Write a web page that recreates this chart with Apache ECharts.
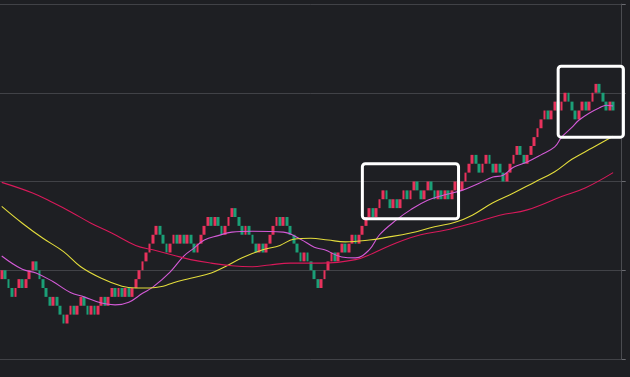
<!DOCTYPE html>
<html>
<head>
<meta charset="utf-8">
<script src="https://cdn.jsdelivr.net/npm/echarts@6/dist/echarts.min.js"></script>
<style>
html, body { margin: 0; padding: 0; background: #1e1f23; }
#chart { width: 630px; height: 377px; }
</style>
</head>
<body>
<div id="chart"></div>
<script>
// renko bricks, in brick units; every brick opens where the previous one closed
const firstOpen = 9;
const brickCloses = [
	10,9,8,7,8,9,8,9,10,11,10,9,8,7,6,7,6,5,4,5,6,5,6,7,
	6,5,6,5,6,7,6,7,8,7,8,7,8,7,
	8,9,10,11,12,13,14,15,
	14,13,12,13,14,13,14,13,14,13,12,13,14,15,16,15,16,15,14,15,16,17,
	16,15,14,15,14,13,12,13,12,13,14,15,16,15,16,15,14,13,12,11,12,11,10,9,8,
	9,10,11,12,11,12,13,12,13,14,13,14,15,16,17,
	16,17,18,19,18,17,18,17,18,19,18,19,20,19,18,19,20,19,18,19,18,19,18,19,20,19,
	20,21,22,23,22,21,22,23,22,21,22,21,20,21,22,23,24,23,22,23,24,25,26,27,28,27,28,29,28,
	29,30,29,28,27,28,29,28,29,30,31,30,29,28,29,28
];
const emptySlots = 2;

// moving averages: [brick index, value]
const maFast = [[0,11.6],[6,10.1],[10,9.7],[15,8.7],[20,7.5],[24,7.0],[29,6.3],[33,6.1],[37,6.4],[41,7.4],[44,8.1],[49,9.8],[53,11.6],[56,12.5],[59,13.4],[63,13.9],[67,14.3],[73,14.4],[82,14.3],[87,13.5],[91,12.6],[94,12.3],[99,11.5],[103,11.4],[107,12.3],[110,14.0],[115,15.7],[119,16.8],[124,17.9],[129,18.5],[134,19.0],[139,19.8],[143,20.5],[146,20.7],[149,21.6],[153,22.2],[157,23.0],[161,23.9],[163,25.0],[166,26.1],[168,26.9],[171,27.7],[174,28.3],[176,28.6],[178,28.5]];
const maMid = [[0,17.2],[6,15.3],[12,13.6],[18,12.1],[23,10.4],[29,9.1],[35,8.2],[39,8.0],[43,8.0],[47,8.2],[50,8.6],[55,9.1],[61,9.7],[65,10.4],[70,11.4],[76,12.3],[81,12.8],[85,13.5],[90,13.6],[95,13.4],[100,13.2],[107,13.4],[112,13.7],[119,14.2],[126,14.9],[132,15.4],[137,16.2],[143,17.6],[149,18.7],[155,19.9],[161,21.1],[166,22.5],[172,23.8],[178,25.1]];
const maSlow = [[0,19.9],[9,18.7],[15,17.6],[20,16.6],[26,15.3],[32,14.2],[39,12.8],[44,12.3],[50,11.7],[55,11.2],[61,10.8],[67,10.5],[73,10.4],[78,10.6],[84,10.8],[93,10.8],[103,11.2],[108,11.9],[115,13.1],[122,14.0],[129,14.5],[137,15.3],[145,16.2],[153,16.8],[163,18.3],[170,19.3],[178,21.0]];

// highlighted ranges: brick index span and value span
const boxes = [
	{from: 105.2, to: 133.0, low: 15.8, high: 22.0},
	{from: 162.3, to: 181.4, low: 25.0, high: 33.0}
];

const categories = [];
for (let i = 0; i < brickCloses.length + emptySlots; i++) categories.push(String(i));

const bricks = brickCloses.map((c, i) => {
	const o = i === 0 ? firstOpen : brickCloses[i - 1];
	return [o, c, Math.min(o, c), Math.max(o, c)];
});

const chart = echarts.init(document.getElementById('chart'));

function maSeries(data, color) {
	return {
		type: 'line',
		data: data,
		smooth: 0.4,
		showSymbol: false,
		silent: true,
		z: 3,
		lineStyle: {color: color, width: 1.1}
	};
}

chart.setOption({
	backgroundColor: '#1e1f23',
	animation: false,
	grid: {left: -2.7, right: 8.3, top: 4, bottom: 18},
	xAxis: {
		type: 'category',
		data: categories,
		boundaryGap: true,
		axisLine: {show: false},
		axisTick: {show: false},
		axisLabel: {show: false},
		splitLine: {show: false}
	},
	yAxis: {
		type: 'value',
		position: 'right',
		min: 0,
		max: 40,
		interval: 10,
		axisLine: {show: true, lineStyle: {color: '#4a4b50'}},
		axisTick: {show: true, inside: false, length: 4, lineStyle: {color: '#6a6b70'}},
		axisLabel: {show: false},
		splitLine: {show: true, lineStyle: {color: '#414247'}}
	},
	series: [
		{
			type: 'candlestick',
			data: bricks,
			barWidth: 3.3,
			z: 2,
			itemStyle: {
				color: '#e8325c',
				color0: '#1b9f77',
				borderColor: '#e8325c',
				borderColor0: '#1b9f77',
				borderWidth: 0
			}
		},
		maSeries(maFast, '#d35ad6'),
		maSeries(maMid, '#e3dc3c'),
		maSeries(maSlow, '#d8195a')
	]
});

const rects = boxes.map(b => {
	const p1 = chart.convertToPixel({gridIndex: 0}, [b.from, b.high]);
	const p2 = chart.convertToPixel({gridIndex: 0}, [b.to, b.low]);
	return {
		type: 'rect',
		z: 10,
		shape: {x: p1[0], y: p1[1], width: p2[0] - p1[0], height: p2[1] - p1[1], r: 3},
		style: {fill: 'none', stroke: '#ffffff', lineWidth: 3}
	};
});
chart.setOption({graphic: rects});
</script>
</body>
</html>
